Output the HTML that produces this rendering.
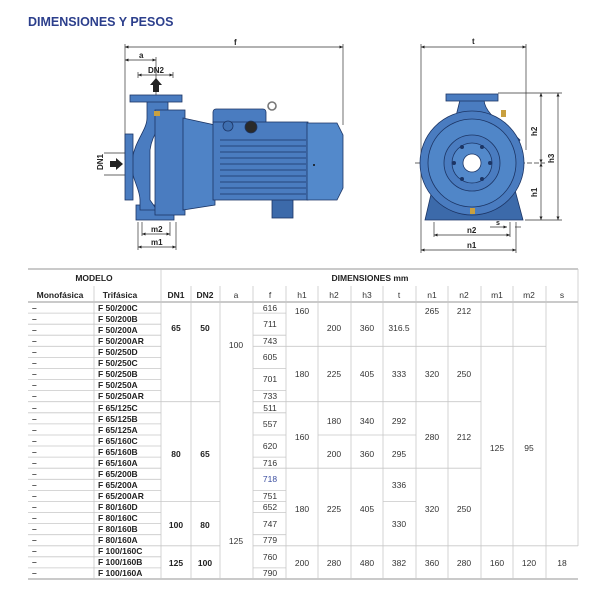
<!DOCTYPE html>
<html><head><meta charset="utf-8"><style>
html,body{margin:0;padding:0;background:#fff;width:600px;height:600px;overflow:hidden}
svg{display:block}
text{font-family:"Liberation Sans",sans-serif}
</style></head><body>
<svg width="600" height="600" viewBox="0 0 600 600" xmlns="http://www.w3.org/2000/svg">
<defs>
<marker id="ar" markerWidth="6" markerHeight="6" refX="5" refY="3" orient="auto"><path d="M0,0.8 L5,3 L0,5.2 z" fill="#222"/></marker>
<marker id="al" markerWidth="6" markerHeight="6" refX="1" refY="3" orient="auto"><path d="M6,0.8 L1,3 L6,5.2 z" fill="#222"/></marker>
</defs>
<text x="28" y="26" font-size="12.5" font-weight="bold" fill="#2c3f8c">DIMENSIONES Y PESOS</text>

<!-- side view dims -->
<g stroke="#333" stroke-width="0.7" fill="none">
<line x1="125" y1="44" x2="125" y2="160"/><line x1="343" y1="44" x2="343" y2="125"/>
<line x1="125" y1="47" x2="343" y2="47" marker-start="url(#al)" marker-end="url(#ar)"/>
<line x1="125" y1="60" x2="156" y2="60" marker-start="url(#al)" marker-end="url(#ar)"/>
<line x1="156" y1="57" x2="156" y2="95"/>
<line x1="138" y1="75" x2="173" y2="75" marker-start="url(#al)" marker-end="url(#ar)"/>
<line x1="138" y1="72" x2="138" y2="78"/><line x1="173" y1="72" x2="173" y2="78"/>
<line x1="104" y1="153" x2="125" y2="153"/><line x1="104" y1="175" x2="125" y2="175"/>
<line x1="142" y1="222" x2="142" y2="236"/><line x1="170" y1="222" x2="170" y2="236"/>
<line x1="142" y1="234" x2="170" y2="234" marker-start="url(#al)" marker-end="url(#ar)"/>
<line x1="138" y1="222" x2="138" y2="250"/><line x1="176" y1="222" x2="176" y2="250"/>
<line x1="138" y1="247" x2="176" y2="247" marker-start="url(#al)" marker-end="url(#ar)"/>
</g>
<text x="234" y="45" font-size="8" font-weight="bold" fill="#222">f</text>
<text x="139" y="58" font-size="8" font-weight="bold" fill="#222">a</text>
<text x="148" y="73" font-size="8" font-weight="bold" fill="#222">DN2</text>
<text x="151" y="232" font-size="8" font-weight="bold" fill="#222">m2</text>
<text x="151" y="245" font-size="8" font-weight="bold" fill="#222">m1</text>
<text transform="translate(103,170) rotate(-90)" font-size="8" font-weight="bold" fill="#222">DN1</text>
<path d="M153,92 L153,85 L150,85 L156,78 L162,85 L159,85 L159,92z" fill="#222"/>
<path d="M110,161 L116,161 L116,158 L123,164 L116,170 L116,167 L110,167z" fill="#222"/>

<!-- side pump -->
<g stroke="#1c3565" stroke-width="0.8" fill="#4a7cc0">
<rect x="272" y="196" width="21" height="22" fill="#3c6aaa"/>
<rect x="136" y="205" width="38" height="15"/>
<path d="M147,101 L168,101 L168,118 C160,125 152,135 150,150 L150,200 L157,210 L140,210 L140,200 C140,190 133,180 132,170 L132,160 C135,140 147,130 147,118z"/>
<rect x="125" y="134" width="8" height="66"/>
<rect x="130" y="95" width="52" height="7"/>
<rect x="155" y="110" width="30" height="105"/>
<path d="M183,118 L215,125 L215,205 L183,210z" fill="#4f83c6"/>
<rect x="213" y="109" width="53" height="16" rx="3"/>
<rect x="213" y="122" width="95" height="78"/>
<path d="M307,123 L337,123 L343,135 L343,188 L337,200 L307,200z" fill="#5389cb"/>
<circle cx="272" cy="106" r="4" fill="none" stroke="#777" stroke-width="1.6"/>
<circle cx="228" cy="126" r="5" fill="#3f6fb0"/>
<circle cx="251" cy="127" r="6" fill="#2a2a2a"/>
</g>
<g stroke="#1c3565" stroke-width="0.8">
<line x1="220" y1="140" x2="306" y2="140"/><line x1="220" y1="146" x2="306" y2="146"/>
<line x1="220" y1="152" x2="306" y2="152"/><line x1="220" y1="158" x2="306" y2="158"/>
<line x1="220" y1="164" x2="306" y2="164"/><line x1="220" y1="170" x2="306" y2="170"/>
<line x1="220" y1="176" x2="306" y2="176"/><line x1="220" y1="182" x2="306" y2="182"/>
<line x1="220" y1="188" x2="306" y2="188"/><line x1="220" y1="194" x2="306" y2="194"/>
</g>
<rect x="154" y="111" width="6" height="5" fill="#c8a040"/>
<circle cx="314" cy="165" r="1" fill="#111"/>

<!-- front view dims -->
<g stroke="#333" stroke-width="0.7" fill="none">
<line x1="421" y1="44" x2="421" y2="253"/><line x1="526" y1="44" x2="526" y2="150"/>
<line x1="421" y1="47" x2="526" y2="47" marker-start="url(#al)" marker-end="url(#ar)"/>
<line x1="498" y1="93" x2="562" y2="93"/><line x1="415" y1="163" x2="545" y2="163" stroke-dasharray="5,2"/>
<line x1="525" y1="220" x2="562" y2="220"/>
<line x1="541" y1="93" x2="541" y2="163" marker-start="url(#al)" marker-end="url(#ar)"/>
<line x1="541" y1="163" x2="541" y2="220" marker-start="url(#al)" marker-end="url(#ar)"/>
<line x1="558" y1="93" x2="558" y2="220" marker-start="url(#al)" marker-end="url(#ar)"/>
<line x1="434" y1="222" x2="434" y2="237"/><line x1="510" y1="222" x2="510" y2="237"/>
<line x1="434" y1="235" x2="510" y2="235" marker-start="url(#al)" marker-end="url(#ar)"/>
<line x1="516" y1="222" x2="516" y2="253"/>
<line x1="421" y1="250" x2="516" y2="250" marker-start="url(#al)" marker-end="url(#ar)"/>
<line x1="490" y1="227" x2="507" y2="227" marker-end="url(#ar)"/><line x1="515" y1="227" x2="521" y2="227"/>
</g>
<text x="472" y="44" font-size="8" font-weight="bold" fill="#222">t</text>
<text x="467" y="233" font-size="8" font-weight="bold" fill="#222">n2</text>
<text x="467" y="248" font-size="8" font-weight="bold" fill="#222">n1</text>
<text x="496" y="225" font-size="7" font-weight="bold" fill="#222">s</text>
<text transform="translate(537,136) rotate(-90)" font-size="8" font-weight="bold" fill="#222">h2</text>
<text transform="translate(537,197) rotate(-90)" font-size="8" font-weight="bold" fill="#222">h1</text>
<text transform="translate(554,163) rotate(-90)" font-size="8" font-weight="bold" fill="#222">h3</text>

<!-- front pump -->
<g stroke="#1c3565" stroke-width="0.8" fill="#4a7cc0">
<path d="M425,220 L432,190 L515,190 L523,220z" fill="#3c6aaa"/>
<path d="M460,100 L484,100 C485,115 505,125 520,140 L505,170 L455,120z"/>
<circle cx="472" cy="163" r="52"/>
<circle cx="472" cy="163" r="44" fill="#5086c8"/>
<circle cx="472" cy="163" r="28" fill="#4a7cc0"/>
<circle cx="472" cy="163" r="20" fill="#5389cb"/>
<circle cx="472" cy="163" r="9" fill="#fff"/>
<rect x="446" y="94" width="52" height="7"/>
</g>
<g fill="#1c3565">
<circle cx="462" cy="147" r="2"/><circle cx="482" cy="147" r="2"/><circle cx="462" cy="179" r="2"/><circle cx="482" cy="179" r="2"/>
<circle cx="454" cy="163" r="2"/><circle cx="490" cy="163" r="2"/>
</g>
<rect x="501" y="110" width="5" height="7" fill="#c8a040"/>
<rect x="470" y="208" width="5" height="6" fill="#c8a040"/>

<!-- TABLE -->
<g stroke="#c8c8c8" stroke-width="0.8" fill="none">
<line x1="28" y1="269" x2="578" y2="269" stroke="#aaa" stroke-width="1.2"/>
<line x1="28" y1="302" x2="578" y2="302" stroke="#aaa" stroke-width="1.2"/>
<line x1="28" y1="579" x2="578" y2="579" stroke="#aaa" stroke-width="1.2"/>
<line x1="161" y1="269" x2="161" y2="579"/>
<line x1="578" y1="269" x2="578" y2="546"/>
<line x1="94" y1="286" x2="94" y2="579"/>
<line x1="191" y1="286" x2="191" y2="579"/><line x1="220" y1="286" x2="220" y2="579"/>
<line x1="253" y1="286" x2="253" y2="579"/><line x1="286" y1="286" x2="286" y2="579"/>
<line x1="318" y1="286" x2="318" y2="579"/><line x1="351" y1="286" x2="351" y2="579"/>
<line x1="383" y1="286" x2="383" y2="579"/><line x1="416" y1="286" x2="416" y2="579"/>
<line x1="448" y1="286" x2="448" y2="579"/><line x1="481" y1="286" x2="481" y2="579"/>
<line x1="513" y1="286" x2="513" y2="579"/><line x1="546" y1="286" x2="546" y2="579"/>
<!-- model row lines -->
<path d="M28,313.1H161M28,324.2H161M28,335.2H161M28,346.3H161M28,357.4H161M28,368.5H161M28,379.6H161M28,390.6H161M28,401.7H161M28,412.8H161M28,423.9H161M28,435H161M28,446H161M28,457.1H161M28,468.2H161M28,479.3H161M28,490.4H161M28,501.4H161M28,512.5H161M28,523.6H161M28,534.7H161M28,545.8H161M28,556.8H161M28,567.9H161"/>
<!-- DN1/DN2 -->
<path d="M161,401.7H220M161,501.4H220M161,545.8H220"/>
<!-- f -->
<path d="M253,313.1H286M253,335.2H286M253,346.3H286M253,368.5H286M253,390.6H286M253,401.7H286M253,412.8H286M253,435H286M253,457.1H286M253,468.2H286M253,490.4H286M253,501.4H286M253,512.5H286M253,534.7H286M253,545.8H286M253,567.9H286"/>
<!-- h1 -->
<path d="M286,346.3H318M286,401.7H318M286,468.2H318M286,545.8H318"/>
<!-- h2 h3 -->
<path d="M318,346.3H383M318,401.7H383M318,435H383M318,468.2H383M318,545.8H383"/>
<!-- t -->
<path d="M383,346.3H416M383,401.7H416M383,435H416M383,468.2H416M383,501.4H416M383,545.8H416"/>
<!-- n1 n2 -->
<path d="M416,346.3H481M416,401.7H481M416,468.2H481M416,545.8H481"/>
<!-- m1 m2 -->
<path d="M481,346.3H546M481,545.8H578"/>
</g>
<g font-size="8.5" font-weight="bold" fill="#222" text-anchor="middle">
<text x="94" y="281">MODELO</text>
<text x="370" y="281">DIMENSIONES mm</text>
<text x="60" y="298" text-anchor="middle">Monofásica</text>
<text x="120" y="298">Trifásica</text>
<text x="176" y="298">DN1</text><text x="205" y="298">DN2</text>
</g>
<g font-size="8.5" fill="#333" text-anchor="middle">
<text x="236" y="298">a</text><text x="270" y="298">f</text><text x="302" y="298">h1</text><text x="334" y="298">h2</text>
<text x="367" y="298">h3</text><text x="399" y="298">t</text><text x="432" y="298">n1</text><text x="464" y="298">n2</text>
<text x="497" y="298">m1</text><text x="529" y="298">m2</text><text x="562" y="298">s</text>
</g>
<g font-size="8.5" font-weight="bold" fill="#222">
<g fill="#444"><text x="32" y="311">–</text><text x="32" y="322">–</text><text x="32" y="333">–</text><text x="32" y="344">–</text><text x="32" y="355">–</text><text x="32" y="366">–</text><text x="32" y="377">–</text><text x="32" y="388">–</text><text x="32" y="399">–</text><text x="32" y="411">–</text><text x="32" y="422">–</text><text x="32" y="433">–</text><text x="32" y="444">–</text><text x="32" y="455">–</text><text x="32" y="466">–</text><text x="32" y="477">–</text><text x="32" y="488">–</text><text x="32" y="499">–</text><text x="32" y="510">–</text><text x="32" y="521">–</text><text x="32" y="532">–</text><text x="32" y="543">–</text><text x="32" y="554">–</text><text x="32" y="565">–</text><text x="32" y="576">–</text></g>
<text x="98" y="311">F 50/200C</text><text x="98" y="322">F 50/200B</text><text x="98" y="333">F 50/200A</text><text x="98" y="344">F 50/200AR</text>
<text x="98" y="355">F 50/250D</text><text x="98" y="366">F 50/250C</text><text x="98" y="377">F 50/250B</text><text x="98" y="388">F 50/250A</text><text x="98" y="399">F 50/250AR</text>
<text x="98" y="411">F 65/125C</text><text x="98" y="422">F 65/125B</text><text x="98" y="433">F 65/125A</text>
<text x="98" y="444">F 65/160C</text><text x="98" y="455">F 65/160B</text><text x="98" y="466">F 65/160A</text>
<text x="98" y="477">F 65/200B</text><text x="98" y="488">F 65/200A</text><text x="98" y="499">F 65/200AR</text>
<text x="98" y="510">F 80/160D</text><text x="98" y="521">F 80/160C</text><text x="98" y="532">F 80/160B</text><text x="98" y="543">F 80/160A</text>
<text x="98" y="554">F 100/160C</text><text x="98" y="565">F 100/160B</text><text x="98" y="576">F 100/160A</text>
<g text-anchor="middle">
<text x="176" y="331">65</text><text x="205" y="331">50</text>
<text x="176" y="457">80</text><text x="205" y="457">65</text>
<text x="176" y="528">100</text><text x="205" y="528">80</text>
<text x="176" y="566">125</text><text x="205" y="566">100</text>
</g>
</g>
<g font-size="8.5" fill="#333" text-anchor="middle">
<text x="236" y="348">100</text><text x="236" y="544">125</text>
<text x="270" y="311">616</text><text x="270" y="327">711</text><text x="270" y="344">743</text>
<text x="270" y="360">605</text><text x="270" y="382">701</text><text x="270" y="399">733</text>
<text x="270" y="411">511</text><text x="270" y="427">557</text><text x="270" y="449">620</text>
<text x="270" y="466">716</text><text x="270" y="482" fill="#3b4ea0">718</text><text x="270" y="499">751</text>
<text x="270" y="510">652</text><text x="270" y="527">747</text><text x="270" y="543">779</text>
<text x="270" y="560">760</text><text x="270" y="576">790</text>
<text x="302" y="314">160</text><text x="302" y="377">180</text><text x="302" y="440">160</text><text x="302" y="512">180</text><text x="302" y="566">200</text>
<text x="334" y="331">200</text><text x="334" y="377">225</text><text x="334" y="424">180</text><text x="334" y="457">200</text><text x="334" y="512">225</text><text x="334" y="566">280</text>
<text x="367" y="331">360</text><text x="367" y="377">405</text><text x="367" y="424">340</text><text x="367" y="457">360</text><text x="367" y="512">405</text><text x="367" y="566">480</text>
<text x="399" y="331">316.5</text><text x="399" y="377">333</text><text x="399" y="424">292</text><text x="399" y="457">295</text><text x="399" y="488">336</text><text x="399" y="527">330</text><text x="399" y="566">382</text>
<text x="432" y="314">265</text><text x="432" y="377">320</text><text x="432" y="440">280</text><text x="432" y="512">320</text><text x="432" y="566">360</text>
<text x="464" y="314">212</text><text x="464" y="377">250</text><text x="464" y="440">212</text><text x="464" y="512">250</text><text x="464" y="566">280</text>
<text x="497" y="451">125</text><text x="529" y="451">95</text>
<text x="497" y="566">160</text><text x="529" y="566">120</text><text x="562" y="566">18</text>
</g>
</svg>
</body></html>
